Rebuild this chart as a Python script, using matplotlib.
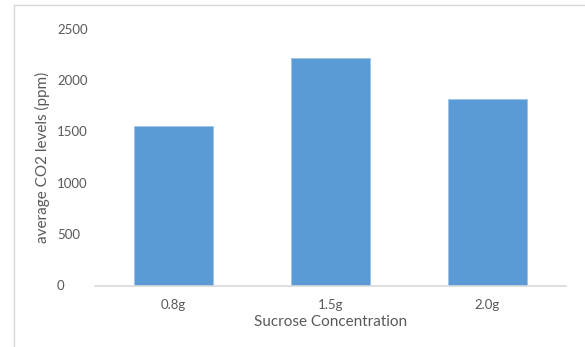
import matplotlib.pyplot as plt
from matplotlib.lines import Line2D

categories = ["0.8g", "1.5g", "2.0g"]
co2_levels = [1555, 2214, 1818]
y_ticks = [0, 500, 1000, 1500, 2000, 2500]

plt.rcParams["font.family"] = ["Lato", "DejaVu Sans"]
text_color = "#595959"

fig = plt.figure(figsize=(5.85, 3.47), dpi=100)
ax = fig.add_axes([95 / 585, 1 - 285.5 / 347, (566 - 95) / 585, (285.5 - 28.5) / 347])

ax.bar(categories, co2_levels, width=0.5, color="#5B9BD5",
       edgecolor="#9DC3E6", linewidth=0.6)

ax.set_ylim(0, 2500)
ax.set_xlim(-0.5, 2.5)
ax.set_yticks(y_ticks)
ax.tick_params(axis="both", length=0, colors=text_color, labelsize=9.5)
# Excel-style left-aligned value labels
ax.tick_params(axis="y", pad=27.4)
for lbl in ax.get_yticklabels():
    lbl.set_horizontalalignment("left")
ax.tick_params(axis="x", pad=10)

for side in ["top", "right", "left"]:
    ax.spines[side].set_visible(False)
ax.spines["bottom"].set_color("#D9D9D9")
ax.spines["bottom"].set_linewidth(1.2)

ax.set_xlabel("Sucrose Concentration", color=text_color, fontsize=11)
ax.xaxis.set_label_coords(0.5, -(322 - 285.5) / 257, transform=ax.transAxes)
ax.xaxis.label.set_verticalalignment("center")
ax.set_ylabel("average CO2 levels (ppm)", color=text_color, fontsize=11)
ax.yaxis.set_label_coords(-(95 - 42) / 471, 0.5)
ax.yaxis.label.set_verticalalignment("center")

# chart area frame (top and left edges visible)
fig.add_artist(Line2D([14 / 585, 14 / 585], [0, 1 - 5 / 347],
                      transform=fig.transFigure, color="#D9D9D9", lw=1))
fig.add_artist(Line2D([14 / 585, 1], [1 - 5 / 347, 1 - 5 / 347],
                      transform=fig.transFigure, color="#D9D9D9", lw=1))

fig.savefig("out.png", dpi=100, facecolor="white")
